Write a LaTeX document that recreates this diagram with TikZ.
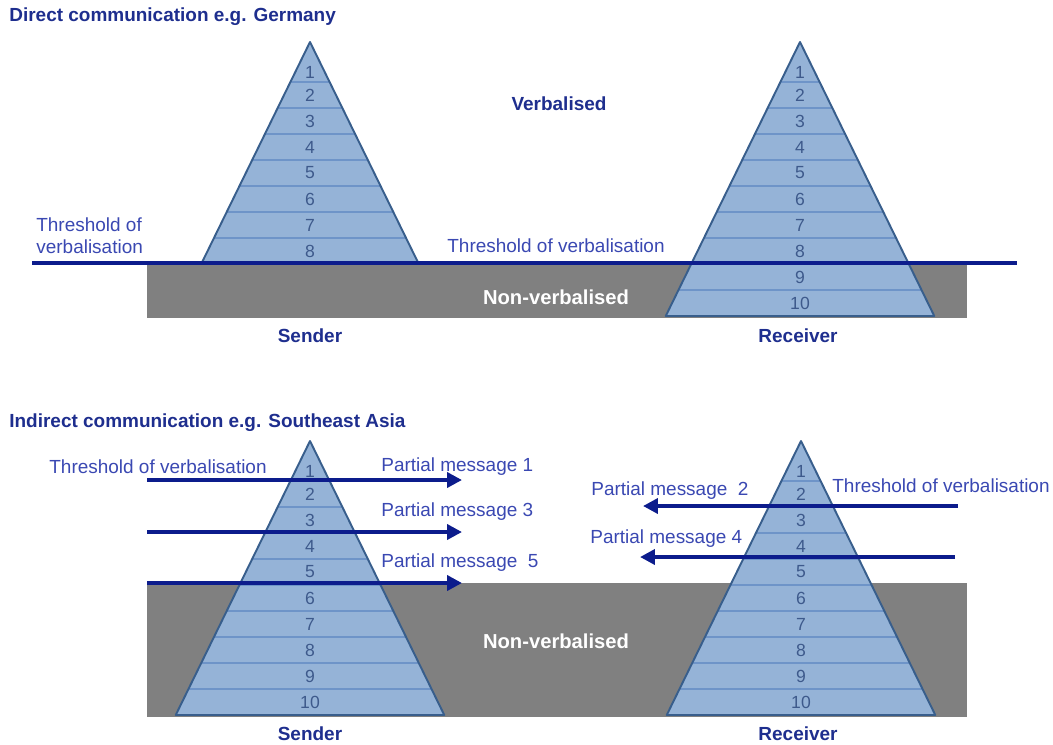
\documentclass[tikz,border=0pt]{standalone}
\usepackage{fontspec}
\setmainfont{Liberation Sans}
\usetikzlibrary{arrows.meta, positioning, calc}

\definecolor{navy}{RGB}{12,28,140}
\definecolor{labelblue}{RGB}{58,72,178}
\definecolor{titleblue}{RGB}{30,46,142}
\definecolor{pyrfill}{RGB}{149,179,215}
\definecolor{pyredge}{RGB}{56,94,140}
\definecolor{pyrline}{RGB}{110,148,200}
\definecolor{numblue}{RGB}{62,90,140}
\definecolor{shade}{RGB}{128,128,128}

\begin{document}
\begin{tikzpicture}[x=0.02cm, y=-0.02cm, >=Stealth, line join=round]
	\def\slope{0.49}
	
	\tikzset{
		title/.style={font=\fontsize{10.8}{13}\selectfont\bfseries, text=titleblue, anchor=west, inner sep=0pt},
		zone/.style={font=\fontsize{11.5}{13}\selectfont\bfseries, inner sep=0pt},
		role/.style={font=\fontsize{10.8}{13}\selectfont\bfseries, text=titleblue, inner sep=0pt},
		lbl/.style={font=\fontsize{10.8}{12.5}\selectfont, text=labelblue, inner sep=0pt},
		num/.style={font=\fontsize{10}{12}\selectfont, text=numblue, inner sep=0pt},
		thresh/.style={navy, line width=2.3pt},
		msg/.style={navy, line width=2.3pt, -{Triangle[length=8.5pt, width=8.5pt]}},
		ground/.style={fill=shade, draw=none},
		pyr/.style={draw=pyredge, line width=1.1pt},
		band/.style={pyrline, line width=0.6pt}
	}
	
	% name, apex x, apex y, number of bands
	\newcommand{\pyramid}[4]{
		\pgfmathsetmacro{\baseY}{#3+40+(#4-1)*26}
		\pgfmathsetmacro{\halfW}{\slope*(\baseY-#3)}
		\fill[pyrfill] (#2,#3) -- ({#2-\halfW},\baseY) -- ({#2+\halfW},\baseY) -- cycle;
		\pgfmathtruncatemacro{\nlast}{#4-1}
		\foreach \k in {1,...,\nlast} {
			\pgfmathsetmacro{\yy}{#3+40+(\k-1)*26}
			\draw[band] ({#2-\slope*(\yy-#3)},\yy) -- ({#2+\slope*(\yy-#3)},\yy);
		}
		\draw[pyr] (#2,#3) -- ({#2-\halfW},\baseY) -- ({#2+\halfW},\baseY) -- cycle;
		\foreach \k in {1,...,#4} {
			\pgfmathsetmacro{\yy}{ifthenelse(\k==1, #3+30, #3+40+(\k-1.5)*26)}
			\node[num] (#1-\k) at (#2,\yy) {\k};
		}
	}
	
	\useasboundingbox (0,0) rectangle (1053,744);
	
	% direct communication
	\node[title] (direct) at (9,17) {Direct communication e.g. Germany};
	
	\fill[ground] (147,263) rectangle (967,318);
	\pyramid{ds}{310}{42}{8}
	\pyramid{dr}{800}{42}{10}
	
	\coordinate (thL) at (32,263);
	\coordinate (thR) at (1017,263);
	\draw[thresh] (thL) -- (thR);
	
	\node[role] (verb) at (559,104) {Verbalised};
	\node[lbl, anchor=west, align=left] (thd1) at (36,236) {Threshold of\\verbalisation};
	\node[lbl] (thd2) at (556,246) {Threshold of verbalisation};
	\node[zone, text=white] (nonv1) at (556,297) {Non-verbalised};
	\node[role] (send1) at (310,336) {Sender};
	\node[role] (recv1) at (798,336) {Receiver};
	
	% indirect communication
	\node[title] (indirect) at (9,423) {Indirect communication e.g. Southeast Asia};
	
	\fill[ground] (147,583) rectangle (967,717);
	\pyramid{is}{310}{441}{10}
	\pyramid{ir}{801}{441}{10}
	
	\coordinate (m1s) at (147,480);  \coordinate (m1e) at (462,480);
	\coordinate (m3s) at (147,532);  \coordinate (m3e) at (462,532);
	\coordinate (m5s) at (147,583);  \coordinate (m5e) at (462,583);
	\coordinate (m2s) at (958,506);  \coordinate (m2e) at (643,506);
	\coordinate (m4s) at (955,557);  \coordinate (m4e) at (640,557);
	\foreach \m in {1,...,5}
		\draw[msg] (m\m s) -- (m\m e);
	
	\node[lbl] (thi1) at (158,467) {Threshold of verbalisation};
	\node[lbl, anchor=west] (pm1) at (381,467) {Partial message 1};
	\node[lbl, anchor=west] (pm3) at (381,512) {Partial message 3};
	\node[lbl, anchor=west] (pm5) at (381,563) {Partial message\ \ 5};
	\node[lbl, anchor=west] (pm2) at (591,491) {Partial message\ \ 2};
	\node[lbl, anchor=west] (pm4) at (590,539) {Partial message 4};
	\node[lbl, anchor=west] (thi2) at (832,486) {Threshold of verbalisation};
	\node[zone, text=white] (nonv2) at (556,641) {Non-verbalised};
	\node[role] (send2) at (310,734) {Sender};
	\node[role] (recv2) at (798,734) {Receiver};
	
\end{tikzpicture}
\end{document}
